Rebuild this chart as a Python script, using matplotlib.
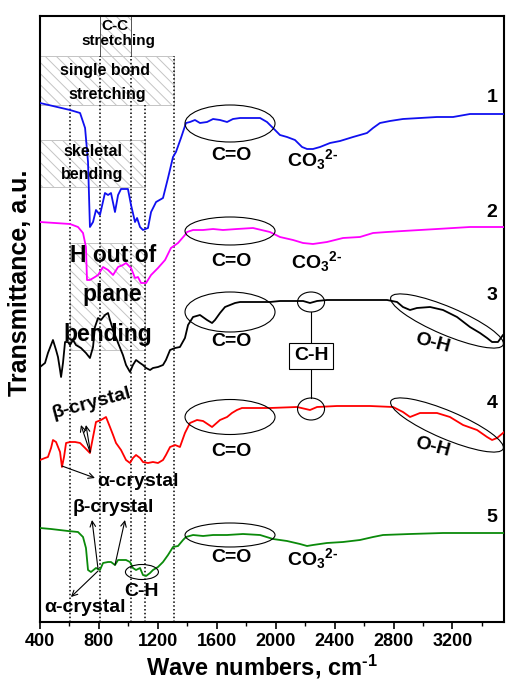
import matplotlib
matplotlib.use("Agg")
import matplotlib.pyplot as plt
from matplotlib.patches import Ellipse, Rectangle
from matplotlib.transforms import IdentityTransform
from matplotlib.ticker import MultipleLocator

plt.rcParams["font.family"] = ["Liberation Sans", "DejaVu Sans"]
plt.rcParams["font.weight"] = "bold"
plt.rcParams["mathtext.fontset"] = "custom"
plt.rcParams["mathtext.rm"] = "Liberation Sans:bold"
plt.rcParams["mathtext.default"] = "rm"
plt.rcParams["hatch.linewidth"] = 0.7

# ---- FTIR spectra (wave number, cm-1  /  transmittance, a.u. incl. vertical offset) ----
wn1 = [400, 604, 672, 706, 726, 739, 760, 780, 807, 841, 862, 882, 909, 930, 950, 997,
       1018, 1045, 1059, 1079, 1099, 1133, 1154, 1188, 1235, 1269, 1303, 1323, 1357, 1391,
       1418, 1452, 1486, 1534, 1575, 1622, 1670, 1710, 1758, 1826, 1894, 1941, 1982, 2029,
       2077, 2131, 2179, 2213, 2253, 2301, 2369, 2437, 2525, 2620, 2661, 2708, 2776, 2864,
       2980, 3095, 3204, 3319, 3435, 3600]
t1 = [5.19, 5.12, 5.09, 4.94, 4.60, 3.95, 4.00, 4.12, 4.07, 4.29, 4.27, 4.29, 4.10, 4.27,
      4.33, 4.33, 4.17, 4.00, 4.04, 3.95, 3.92, 3.94, 4.10, 4.20, 4.24, 4.44, 4.65, 4.70,
      4.84, 4.99, 5.00, 5.02, 4.99, 5.00, 5.03, 5.02, 5.00, 5.03, 5.04, 5.04, 5.04, 5.00,
      4.94, 4.87, 4.85, 4.82, 4.75, 4.73, 4.73, 4.75, 4.79, 4.81, 4.85, 4.89, 4.94, 4.99,
      5.01, 5.03, 5.04, 5.05, 5.05, 5.08, 5.08, 5.08]

wn2 = [400, 604, 658, 692, 712, 719, 739, 773, 794, 828, 862, 896, 930, 963, 984, 1018,
       1045, 1065, 1086, 1120, 1154, 1201, 1249, 1289, 1337, 1384, 1398, 1439, 1507, 1575,
       1642, 1737, 1846, 1961, 2029, 2118, 2186, 2253, 2348, 2457, 2572, 2661, 2756, 2864,
       3095, 3319, 3600]
t2 = [4.00, 3.98, 3.95, 3.89, 3.75, 3.42, 3.42, 3.45, 3.47, 3.55, 3.52, 3.47, 3.55, 3.57,
      3.59, 3.54, 3.44, 3.45, 3.39, 3.39, 3.47, 3.54, 3.62, 3.74, 3.79, 3.87, 3.90, 3.92,
      3.92, 3.93, 3.92, 3.93, 3.94, 3.90, 3.85, 3.82, 3.79, 3.78, 3.80, 3.84, 3.85, 3.89,
      3.90, 3.91, 3.93, 3.95, 3.95]

wn3 = [400, 434, 454, 488, 509, 522, 536, 543, 556, 570, 590, 604, 624, 644, 678, 712,
       739, 760, 773, 794, 814, 841, 862, 875, 896, 930, 963, 984, 1011, 1031, 1052, 1079,
       1099, 1120, 1147, 1167, 1201, 1235, 1255, 1283, 1317, 1350, 1384, 1405, 1439, 1486,
       1534, 1568, 1588, 1622, 1656, 1690, 1724, 1758, 1826, 1894, 1961, 2029, 2118, 2186,
       2233, 2281, 2348, 2525, 2756, 2824, 2864, 2912, 2959, 3048, 3136, 3231, 3319, 3387,
       3435, 3469, 3509, 3543, 3600]
t3 = [2.55, 2.59, 2.69, 2.82, 2.72, 2.65, 2.52, 2.45, 2.59, 2.80, 2.80, 2.77, 2.82, 2.77,
      2.74, 2.69, 2.64, 2.75, 2.95, 3.04, 3.02, 3.07, 3.09, 3.02, 2.92, 2.79, 2.67, 2.57,
      2.50, 2.57, 2.62, 2.59, 2.57, 2.54, 2.52, 2.54, 2.55, 2.57, 2.62, 2.72, 2.74, 2.75,
      2.84, 2.97, 3.05, 3.07, 3.02, 2.99, 3.02, 3.09, 3.15, 3.17, 3.19, 3.20, 3.20, 3.20,
      3.20, 3.21, 3.21, 3.21, 3.19, 3.21, 3.22, 3.22, 3.22, 3.20, 3.15, 3.12, 3.14, 3.15,
      3.12, 3.05, 2.95, 2.89, 2.84, 2.80, 2.80, 2.87, 2.94]

wn4 = [400, 434, 454, 475, 488, 509, 536, 549, 563, 577, 604, 638, 672, 706, 739, 760,
       780, 814, 848, 875, 896, 916, 950, 984, 1011, 1031, 1052, 1079, 1099, 1133, 1167,
       1201, 1235, 1255, 1283, 1317, 1350, 1384, 1418, 1466, 1507, 1568, 1622, 1670, 1703,
       1737, 1771, 1826, 1961, 2145, 2233, 2281, 2416, 2640, 2797, 2864, 2912, 2980, 3095,
       3183, 3272, 3367, 3435, 3469, 3503, 3543, 3600]
t4 = [1.62, 1.64, 1.65, 1.74, 1.82, 1.80, 1.70, 1.55, 1.65, 1.79, 1.80, 1.80, 1.79, 1.74,
      1.69, 1.85, 2.00, 2.02, 2.05, 1.95, 1.87, 1.79, 1.72, 1.62, 1.59, 1.64, 1.67, 1.64,
      1.60, 1.59, 1.60, 1.59, 1.62, 1.67, 1.75, 1.77, 1.75, 1.89, 1.99, 2.02, 2.01, 1.95,
      2.02, 2.05, 2.09, 2.12, 2.14, 2.14, 2.14, 2.15, 2.12, 2.15, 2.16, 2.16, 2.15, 2.10,
      2.05, 2.09, 2.09, 2.05, 1.97, 1.92, 1.85, 1.82, 1.84, 1.89, 1.96]

wn5 = [400, 475, 590, 658, 692, 712, 726, 746, 780, 807, 828, 862, 882, 909, 930, 984,
       1011, 1031, 1052, 1079, 1099, 1120, 1147, 1167, 1201, 1235, 1269, 1303, 1337, 1371,
       1391, 1439, 1507, 1575, 1670, 1778, 1894, 1982, 2077, 2165, 2213, 2253, 2348, 2457,
       2572, 2661, 2729, 2912, 3136, 3367, 3600]
t5 = [0.94, 0.93, 0.91, 0.90, 0.85, 0.74, 0.52, 0.50, 0.54, 0.52, 0.59, 0.60, 0.60, 0.57,
      0.62, 0.62, 0.60, 0.54, 0.52, 0.54, 0.47, 0.46, 0.49, 0.52, 0.55, 0.60, 0.67, 0.75,
      0.76, 0.82, 0.85, 0.87, 0.86, 0.87, 0.87, 0.88, 0.87, 0.83, 0.81, 0.78, 0.76, 0.77,
      0.79, 0.80, 0.82, 0.85, 0.87, 0.88, 0.89, 0.89, 0.89]

series = [(wn1, t1, "#1010f0", "1"), (wn2, t2, "#ff00ff", "2"), (wn3, t3, "black", "3"),
          (wn4, t4, "#ff0000", "4"), (wn5, t5, "#0a8a0a", "5")]
label_levels = [5.24, 4.10, 3.27, 2.19, 1.05]

# band guides (cm-1)
guide_lines = [604, 807, 1018, 1113, 1310]
xticks = [400, 800, 1200, 1600, 2000, 2400, 2800, 3200]

W, H = 507, 680
fig = plt.figure(figsize=(W / 100, H / 100), dpi=100)
ax = fig.add_axes([40 / W, 58 / H, 464 / W, 606 / H])
ax.set_xlim(400, 3550)
ax.set_ylim(0, 6.06)

for wn, t, c, lab in series:
    ax.plot(wn, t, color=c, lw=1.3, zorder=3)
for (wn, t, c, lab), lv in zip(series, label_levels):
    ax.text(3469, lv, lab, fontsize=14, ha="center", va="center")

# hatched assignment boxes
def band_box(x0, x1, y0, y1, ec="#c4c4c4"):
    ax.add_patch(Rectangle((x0, y0), x1 - x0, y1 - y0, fill=False, hatch="\\\\\\",
                           ec=ec, lw=0.7, zorder=1))

band_box(400, 1310, 5.17, 5.66)
band_box(807, 1018, 5.66, 6.06)
band_box(400, 1113, 4.35, 4.82)
band_box(604, 1113, 2.72, 3.79)
ax.plot([807, 807], [5.66, 6.06], color="#555555", lw=0.7, zorder=1)
ax.plot([1018, 1018], [5.66, 6.06], color="#555555", lw=0.7, zorder=1)

for g in guide_lines:
    top = 5.17 if g in (604, 1113) else 5.66
    ax.plot([g, g], [0, top], color="black", lw=1.1, ls=(0, (1, 1.5)), zorder=2)

box_txt = dict(fontsize=11.5, ha="center", va="center", zorder=4)
ax.text(909, 5.955, "C-C", fontsize=11, ha="center", va="center", zorder=4)
ax.text(930, 5.81, "stretching", fontsize=11, ha="center", va="center", zorder=4)
ax.text(841, 5.52, "single bond", **box_txt)
ax.text(855, 5.27, "stretching", **box_txt)
ax.text(760, 4.70, "skeletal", **box_txt)
ax.text(753, 4.47, "bending", **box_txt)
big_txt = dict(fontsize=16.5, ha="center", va="center", zorder=4)
ax.text(896, 3.67, "H out of", **big_txt)
ax.text(889, 3.27, "plane", **big_txt)
ax.text(862, 2.87, "bending", **big_txt)

# group rings drawn in pixel space so they keep their shape
def ring(x, y, w, h, angle=0.0):
    cx, cy = ax.transData.transform((x, y))
    ax.add_artist(Ellipse((cx, cy), w, h, angle=angle, transform=IdentityTransform(),
                          fill=False, ec="black", lw=0.8, zorder=5))

lab = dict(fontsize=14, ha="center", va="center", zorder=6)
co_centres = [4.985, 3.91, 3.10, 2.05, 0.87]
co_heights = [37, 28, 40, 35, 24]
co_labels = [4.67, 3.60, 2.80, 1.70, 0.65]
for yc, hh, yl in zip(co_centres, co_heights, co_labels):
    ring(1690, yc, 90, hh)
    ax.text(1703, yl, "C=O", **lab)

for x, y in [(2253, 4.62), (2281, 3.60), (2253, 0.63)]:
    ax.text(x, y, r"CO$_3$$^{2\text{-}}$", **lab)

# C-H link between spectra 3 and 4
ring(2240, 3.20, 27, 20)
ring(2240, 2.13, 27, 22)
ax.plot([2240, 2240], [3.10, 2.24], color="black", lw=0.8, zorder=5)
ax.text(2240, 2.66, "C-H", bbox=dict(boxstyle="square,pad=0.25", fc="white", ec="black",
                                      lw=0.8), **lab)

# O-H rings
ring(3163, 3.01, 122, 28, -23)
ring(3163, 1.97, 122, 28, -23)
ax.text(3068, 2.79, "O-H", rotation=-15, **lab)
ax.text(3068, 1.75, "O-H", rotation=-15, **lab)

# C-H ring on spectrum 5
ring(1092, 0.50, 33, 15)
ax.text(1092, 0.30, "C-H", **lab)

# crystal phase markers
cry = dict(fontsize=14, ha="center", va="center", zorder=6)
arw = dict(arrowstyle="->", color="black", lw=0.8, shrinkA=0, shrinkB=0)
ax.text(753, 2.19, "β-crystal", rotation=15, **cry)
ax.annotate("", xy=(678, 1.97), xytext=(739, 1.70), arrowprops=arw)
ax.annotate("", xy=(712, 1.97), xytext=(742, 1.70), arrowprops=arw)
ax.text(1065, 1.40, "α-crystal", **cry)
ax.annotate("", xy=(773, 1.44), xytext=(549, 1.56), arrowprops=arw)
ax.text(896, 1.15, "β-crystal", **cry)
ax.annotate("", xy=(753, 1.02), xytext=(794, 0.53), arrowprops=arw)
ax.annotate("", xy=(977, 1.02), xytext=(909, 0.57), arrowprops=arw)
ax.text(706, 0.14, "α-crystal", **cry)
ax.annotate("", xy=(610, 0.25), xytext=(794, 0.51), arrowprops=arw)

# axes styling
for s in ax.spines.values():
    s.set_linewidth(1.5)
ax.set_xticks(xticks)
ax.xaxis.set_minor_locator(MultipleLocator(200))
ax.tick_params(axis="x", which="major", direction="out", length=5, width=1.2,
               labelsize=13, pad=3)
ax.tick_params(axis="x", which="minor", direction="out", length=3, width=1.0)
ax.set_yticks([])
for t in ax.get_xticklabels():
    t.set_fontweight("bold")

fig.text(262 / W, 1 - 667 / H, r"Wave numbers, cm$^{\text{-}1}$", fontsize=17,
         ha="center", va="center")
fig.text(20 / W, 1 - 283 / H, "Transmittance, a.u.", fontsize=18, rotation=90,
         ha="center", va="center")

fig.savefig("out.png", dpi=100)
